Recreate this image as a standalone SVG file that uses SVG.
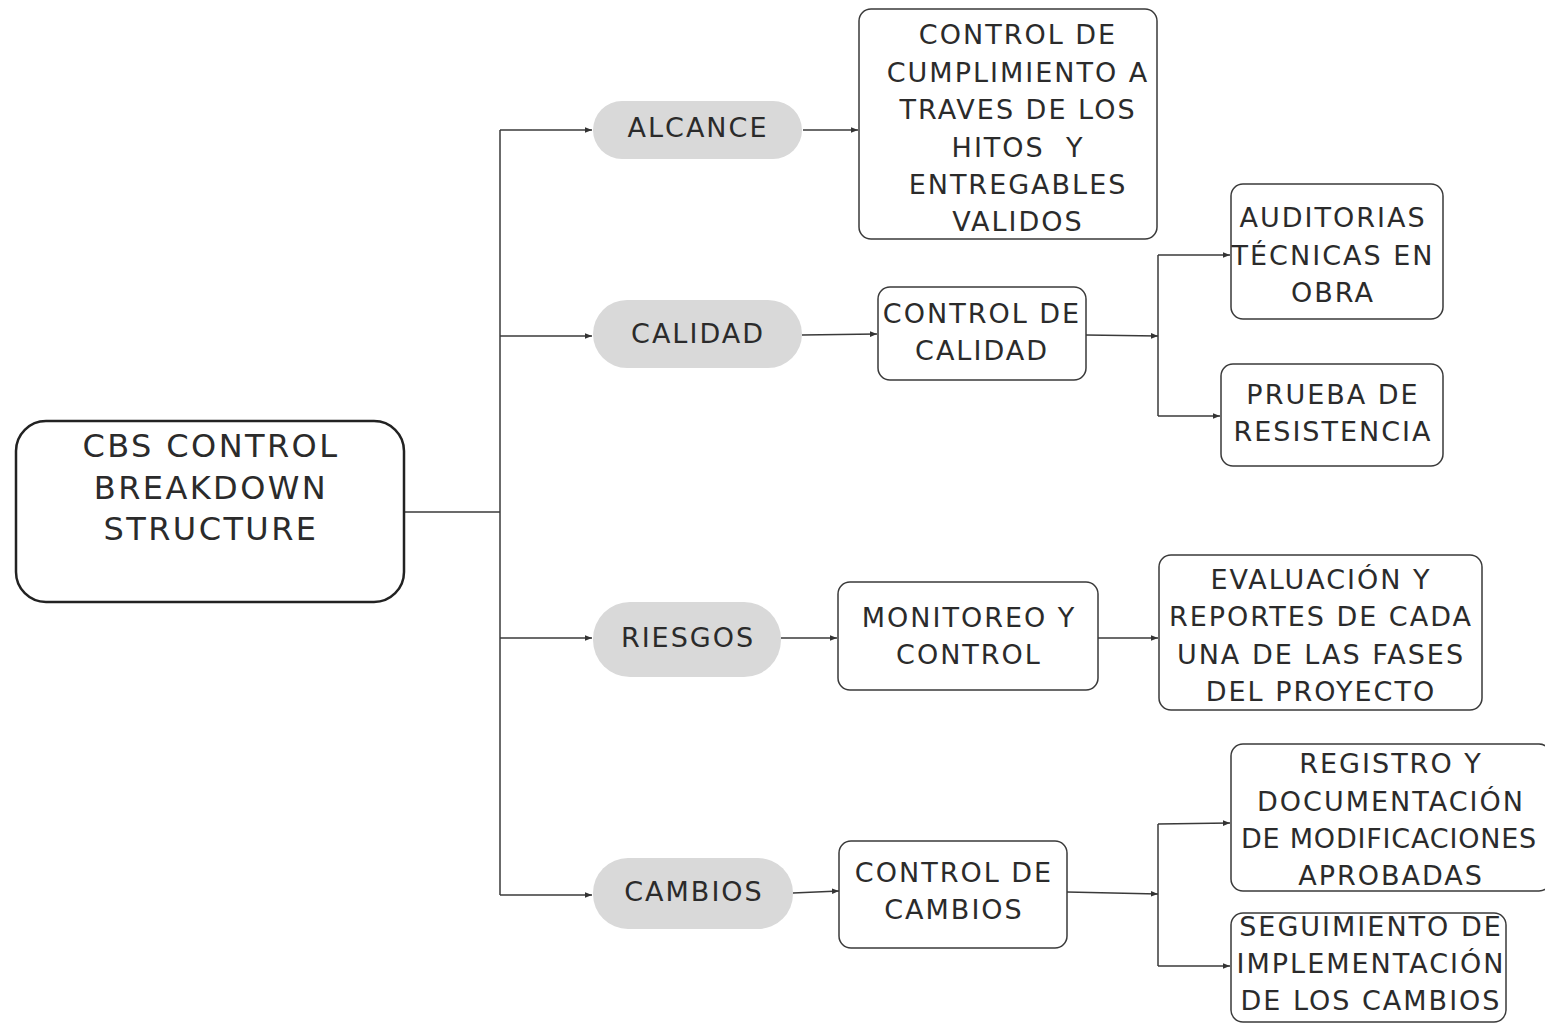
<svg xmlns="http://www.w3.org/2000/svg" width="1545" height="1023" viewBox="0 0 1545 1023">
<defs>
<marker id="ah" viewBox="0 0 10 10" refX="10" refY="5" markerWidth="7" markerHeight="7" orient="auto" markerUnits="userSpaceOnUse"><path d="M0,1 L10,5 L0,9 z" fill="#333"/></marker>
<style>
text{font-family:"DejaVu Sans","Liberation Sans",sans-serif;fill:#2b2b2b;text-anchor:middle;dominant-baseline:central;}
.t{font-size:27px;letter-spacing:2px;}
.big{font-size:32px;letter-spacing:2.4px;}
.box{fill:#fff;stroke:#3a3a3a;stroke-width:1.5;}
.pill{fill:#d9d9d9;stroke:none;}
.c{fill:none;stroke:#3a3a3a;stroke-width:1.5;}
.a{marker-end:url(#ah);}
</style>
</defs>
<rect width="1545" height="1023" fill="#fff"/>
<g id="connectors">
<path class="c" d="M404,512 H500"/>
<path class="c" d="M500,130 V895"/>
<path class="c a" d="M500,130 H592"/>
<path class="c a" d="M500,336 H592"/>
<path class="c a" d="M500,638 H592"/>
<path class="c a" d="M500,895 H592"/>
<path class="c a" d="M803,130 H858"/>
<path class="c a" d="M802,335 L877,334"/>
<path class="c a" d="M1086,335 L1158,336"/>
<path class="c" d="M1158,255 V416"/>
<path class="c a" d="M1158,255 H1230"/>
<path class="c a" d="M1158,416 H1220"/>
<path class="c a" d="M781,638 H837"/>
<path class="c a" d="M1098,638 H1158"/>
<path class="c a" d="M793,893 L839,891"/>
<path class="c a" d="M1067,892 L1158,894"/>
<path class="c" d="M1158,824 V966"/>
<path class="c a" d="M1158,824 L1230,823"/>
<path class="c a" d="M1158,966 H1230"/>
</g>
<g id="root">
<rect x="16" y="421" width="388" height="181" rx="30" fill="#fff" stroke="#222" stroke-width="2.5"/>
<text class="big" x="211" y="446">CBS CONTROL</text>
<text class="big" x="211" y="488">BREAKDOWN</text>
<text class="big" x="211" y="529">STRUCTURE</text>
</g>
<g id="alcance">
<rect class="pill" x="593" y="101" width="209" height="58" rx="29"/>
<text class="t" x="698" y="127">ALCANCE</text>
</g>
<g id="calidad">
<rect class="pill" x="593" y="300" width="209" height="68" rx="34"/>
<text class="t" x="698" y="333">CALIDAD</text>
</g>
<g id="riesgos">
<rect class="pill" x="593" y="602" width="188" height="75" rx="37"/>
<text class="t" x="688" y="637">RIESGOS</text>
</g>
<g id="cambios">
<rect class="pill" x="593" y="858" width="200" height="71" rx="35"/>
<text class="t" x="694" y="891">CAMBIOS</text>
</g>
<g id="control-cumplimiento">
<rect class="box" x="859" y="9" width="298" height="230" rx="12"/>
<text class="t" x="1018" y="34">CONTROL DE</text>
<text class="t" x="1018" y="72">CUMPLIMIENTO A</text>
<text class="t" x="1018" y="109">TRAVES DE LOS</text>
<text class="t" x="1018" y="147" xml:space="preserve">HITOS  Y</text>
<text class="t" x="1018" y="184">ENTREGABLES</text>
<text class="t" x="1018" y="221">VALIDOS</text>
</g>
<g id="control-calidad">
<rect class="box" x="878" y="287" width="208" height="93" rx="12"/>
<text class="t" x="982" y="313">CONTROL DE</text>
<text class="t" x="982" y="350">CALIDAD</text>
</g>
<g id="auditorias">
<rect class="box" x="1231" y="184" width="212" height="135" rx="12"/>
<text class="t" x="1333" y="217">AUDITORIAS</text>
<text class="t" x="1333" y="255">TÉCNICAS EN</text>
<text class="t" x="1333" y="292">OBRA</text>
</g>
<g id="prueba">
<rect class="box" x="1221" y="364" width="222" height="102" rx="12"/>
<text class="t" x="1333" y="394">PRUEBA DE</text>
<text class="t" x="1333" y="431">RESISTENCIA</text>
</g>
<g id="monitoreo">
<rect class="box" x="838" y="582" width="260" height="108" rx="12"/>
<text class="t" x="969" y="617">MONITOREO Y</text>
<text class="t" x="969" y="654">CONTROL</text>
</g>
<g id="evaluacion">
<rect class="box" x="1159" y="555" width="323" height="155" rx="12"/>
<text class="t" x="1321" y="579">EVALUACIÓN Y</text>
<text class="t" x="1321" y="616">REPORTES DE CADA</text>
<text class="t" x="1321" y="654">UNA DE LAS FASES</text>
<text class="t" x="1321" y="691">DEL PROYECTO</text>
</g>
<g id="control-cambios">
<rect class="box" x="839" y="841" width="228" height="107" rx="12"/>
<text class="t" x="954" y="872">CONTROL DE</text>
<text class="t" x="954" y="909">CAMBIOS</text>
</g>
<g id="registro">
<rect class="box" x="1231" y="744" width="320" height="147" rx="12"/>
<text class="t" x="1391" y="763">REGISTRO Y</text>
<text class="t" x="1391" y="801">DOCUMENTACIÓN</text>
<text class="t" x="1389" y="838" style="letter-spacing:0.8px">DE MODIFICACIONES</text>
<text class="t" x="1391" y="875">APROBADAS</text>
</g>
<g id="seguimiento">
<rect class="box" x="1231" y="913" width="275" height="109" rx="12"/>
<text class="t" x="1371" y="926">SEGUIMIENTO DE</text>
<text class="t" x="1371" y="963">IMPLEMENTACIÓN</text>
<text class="t" x="1371" y="1000">DE LOS CAMBIOS</text>
</g>
</svg>
